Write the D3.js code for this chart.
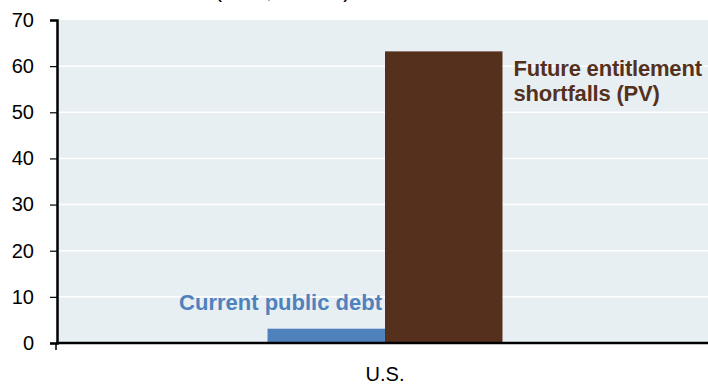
<!DOCTYPE html>
<html>
<head>
<meta charset="utf-8">
<script src="https://cdn.jsdelivr.net/npm/d3@7"></script>
<style>
  body { margin: 0; background: #fff; }
  svg { display: block; font-family: "Liberation Sans", Arial, sans-serif; }
</style>
</head>
<body>
<div id="chart"></div>
<script>
// Data
const categories = ["U.S."];
const seriesNames = ["Current public debt", "Future entitlement shortfalls (PV)"];
const seriesValues = [3.1, 63.2];
const seriesColors = ["#4f81bd", "#55311d"];
const yTicks = [0, 10, 20, 30, 40, 50, 60, 70];

const width = 708;
const height = 384;
const plot = { left: 57, right: 713, top: 20, bottom: 343 };

const svg = d3
  .select("#chart")
  .append("svg")
  .attr("width", width)
  .attr("height", height);

// clipped title (only its lower edge shows in the frame, as in the source)
svg
  .append("text")
  .attr("x", 215)
  .attr("y", -2.5)
  .style("font-size", "21px")
  .attr("fill", "#000")
  .text("(USD, trillions)");

const y = d3.scaleLinear().domain([0, 70]).range([plot.bottom, plot.top]);

const x0 = d3
  .scaleBand()
  .domain(categories)
  .range([plot.left, plot.right])
  .paddingInner(0)
  .paddingOuter(0.896);

const x1 = d3.scaleBand().domain(seriesNames).range([0, x0.bandwidth()]);

// Background
svg
  .append("rect")
  .attr("x", plot.left)
  .attr("y", plot.top)
  .attr("width", width - plot.left)
  .attr("height", plot.bottom - plot.top)
  .attr("fill", "#e8eff3");

// Gridlines
svg
  .append("g")
  .selectAll("line")
  .data(yTicks.filter((d) => d > 0 && d < 70))
  .join("line")
  .attr("x1", plot.left)
  .attr("x2", width)
  .attr("y1", (d) => y(d))
  .attr("y2", (d) => y(d))
  .attr("stroke", "#ffffff")
  .attr("stroke-width", 1.5);

// Bars
const bars = categories
  .map((c) => seriesNames.map((s, i) => ({ cat: c, series: s, value: seriesValues[i], color: seriesColors[i] })))
  .flat();

svg
  .append("g")
  .selectAll("rect")
  .data(bars)
  .join("rect")
  .attr("x", (d) => x0(d.cat) + x1(d.series))
  .attr("y", (d) => y(d.value))
  .attr("width", x1.bandwidth())
  .attr("height", (d) => y(0) - y(d.value))
  .attr("fill", (d) => d.color);

// Y axis
const yAxis = d3.axisLeft(y).tickValues(yTicks).tickSize(7).tickPadding(16);
const yAxisGroup = svg
  .append("g")
  .attr("transform", `translate(${plot.left},0)`)
  .call(yAxis);
yAxisGroup.select(".domain").attr("stroke", "#000").attr("stroke-width", 2.5);
yAxisGroup.selectAll(".tick line").attr("stroke", "#000").attr("stroke-width", 1.2);
yAxisGroup
  .selectAll(".tick text")
  .style("font-size", "20px")
  .attr("fill", "#000")
  .style("font-family", "Liberation Sans, Arial, sans-serif");

// X axis
const xAxisGroup = svg.append("g");
xAxisGroup
  .append("line")
  .attr("x1", plot.left - 1)
  .attr("x2", width)
  .attr("y1", y(0))
  .attr("y2", y(0))
  .attr("stroke", "#000")
  .attr("stroke-width", 2.5);
xAxisGroup
  .append("line")
  .attr("x1", plot.left - 1)
  .attr("x2", plot.left - 1)
  .attr("y1", y(0))
  .attr("y2", y(0) + 7)
  .attr("stroke", "#000")
  .attr("stroke-width", 1.5);
xAxisGroup
  .selectAll("text")
  .data(categories)
  .join("text")
  .attr("x", (d) => x0(d) + x0.bandwidth() / 2)
  .attr("y", y(0) + 38)
  .attr("text-anchor", "middle")
  .style("font-size", "20px")
  .text((d) => d);

// Series labels
const blue = bars[0];
svg
  .append("text")
  .attr("x", x0(blue.cat) + x1(blue.series) + x1.bandwidth() - 3)
  .attr("y", y(blue.value) - 19)
  .attr("text-anchor", "end")
  .attr("fill", blue.color)
  .style("font-size", "22px")
  .style("font-weight", "bold")
  .text(blue.series);

const brown = bars[1];
const brownX = x0(brown.cat) + x1(brown.series) + x1.bandwidth() + 11;
const brownLabel = svg
  .append("text")
  .attr("x", brownX)
  .attr("y", y(brown.value) + 25)
  .attr("fill", brown.color)
  .style("font-size", "22px")
  .style("font-weight", "bold")
  .style("letter-spacing", "-0.2px");
brownLabel.append("tspan").text("Future entitlement");
brownLabel
  .append("tspan")
  .attr("x", brownX)
  .attr("dy", 24.5)
  .text("shortfalls (PV)");
</script>
</body>
</html>
